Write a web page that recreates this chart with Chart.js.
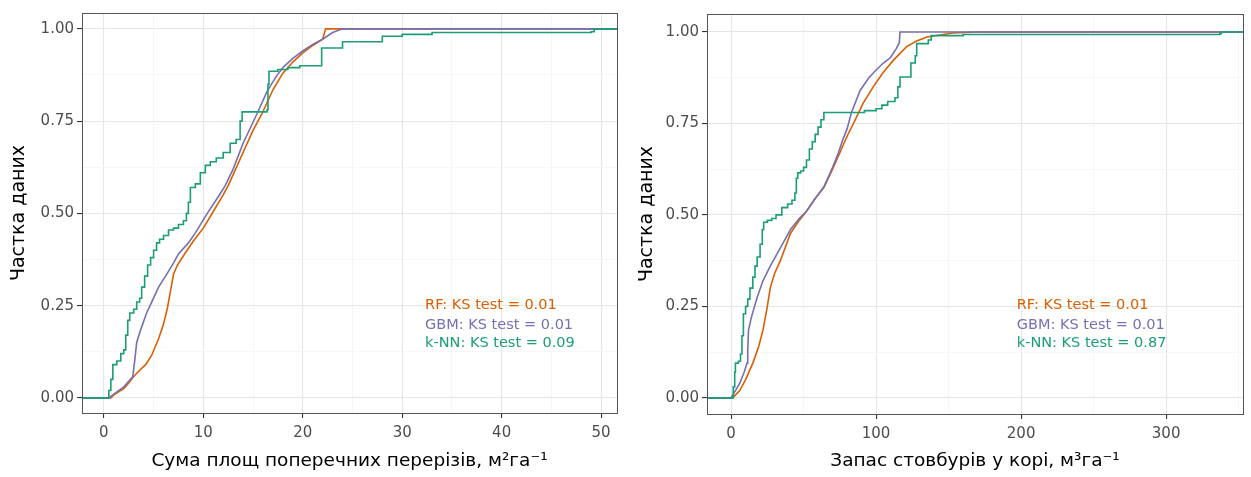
<!DOCTYPE html>
<html>
<head>
<meta charset="utf-8">
<script src="https://cdn.jsdelivr.net/npm/chart.js@4.4.1/dist/chart.umd.min.js"></script>
<style>
  html, body { margin: 0; padding: 0; background: #ffffff; }
  #wrap { position: relative; width: 1251px; height: 477px; background: #fff; }
  #c1 { position: absolute; left: 0; top: 0; }
  #c2 { position: absolute; left: 625px; top: 0; }
</style>
</head>
<body>
<div id="wrap">
  <canvas id="c1" width="625" height="477"></canvas>
  <canvas id="c2" width="626" height="477"></canvas>
</div>
<script>
// ---------------- DATA ----------------
const seriesNames = ['RF', 'GBM', 'k-NN'];
const ksLeft = ['0.01', '0.01', '0.09'];
const ksRight = ['0.01', '0.01', '0.87'];

const xTitleLeft = 'Сума площ поперечних перерізів, м²га⁻¹';
const xTitleRight = 'Запас стовбурів у корі, м³га⁻¹';
const yTitle = 'Частка даних';

const xTicksLeft = [0, 10, 20, 30, 40, 50];
const xTicksRight = [0, 100, 200, 300];
const yTicks = [0, 0.25, 0.5, 0.75, 1];

// Left panel: basal area ECDFs (x, cumulative share)
const rfLeft = [[-2.2,0],[0.7,0],[1.0,0.008],[2.0,0.025],[2.5,0.04],[3.0,0.058],[3.6,0.075],[4.2,0.09],[4.8,0.115],[5.5,0.16],[6.0,0.2],[6.4,0.245],[6.7,0.29],[7.0,0.335],[7.4,0.36],[8.0,0.385],[9.0,0.425],[10.0,0.46],[11.0,0.505],[12.0,0.55],[12.5,0.575],[13.0,0.605],[14.0,0.665],[15.0,0.725],[15.9,0.77],[17.0,0.835],[18.0,0.88],[19.0,0.91],[20.0,0.935],[21.0,0.955],[22.0,0.972],[22.3,1.0],[51.6,1.0]];
const gbmLeft = [[-2.2,0],[0.5,0],[1.0,0.01],[2.0,0.03],[2.9,0.057],[3.1,0.1],[3.3,0.15],[3.7,0.185],[4.3,0.23],[4.9,0.265],[5.5,0.3],[6.2,0.33],[7.0,0.365],[7.5,0.39],[8.5,0.42],[9.2,0.447],[10.4,0.5],[11.5,0.545],[12.2,0.575],[13.0,0.62],[14.0,0.69],[15.4,0.77],[16.4,0.83],[17.3,0.87],[18.0,0.895],[19.0,0.92],[20.0,0.94],[21.0,0.958],[22.0,0.972],[23.0,0.99],[24.0,1.0],[51.6,1.0]];
const knnLeft = [[-2.2,0],[0.3,0],[0.5,0.02],[0.7,0.05],[0.9,0.09],[1.3,0.1],[1.7,0.12],[2.0,0.13],[2.2,0.17],[2.4,0.21],[2.6,0.23],[3.0,0.24],[3.3,0.26],[3.6,0.27],[3.8,0.3],[4.1,0.33],[4.4,0.36],[4.7,0.38],[5.0,0.4],[5.3,0.42],[5.6,0.43],[6.0,0.44],[6.5,0.455],[7.0,0.46],[7.5,0.47],[8.0,0.48],[8.3,0.5],[8.5,0.53],[8.7,0.57],[9.2,0.58],[9.7,0.61],[10.2,0.63],[10.7,0.64],[11.3,0.65],[12.0,0.665],[12.7,0.69],[13.3,0.7],[13.7,0.75],[13.9,0.775],[16.4,0.78],[16.5,0.85],[16.6,0.885],[17.5,0.89],[18.5,0.895],[19.7,0.9],[21.9,0.948],[24.0,0.965],[28.0,0.98],[30.0,0.985],[33.0,0.99],[49.0,0.992],[49.3,1.0],[51.6,1.0]];

// Right panel: stem volume ECDFs
const rfRight = [[-16.6,0],[1,0],[6,0.02],[10,0.05],[15,0.095],[19,0.14],[22,0.185],[25,0.25],[27,0.3],[30,0.34],[34,0.375],[41,0.45],[47,0.485],[52,0.51],[58,0.545],[64,0.575],[70,0.625],[75,0.67],[80,0.715],[85,0.755],[91,0.805],[98,0.85],[105,0.89],[112,0.923],[121,0.96],[128,0.975],[135,0.986],[153,0.997],[170,1.0],[353,1.0]];
const gbmRight = [[-16.6,0],[0,0],[3,0.02],[6,0.04],[9,0.07],[11,0.095],[11.5,0.13],[12,0.185],[14,0.22],[18,0.275],[22,0.32],[27,0.36],[34,0.41],[41,0.46],[47,0.49],[52,0.51],[58,0.545],[64,0.577],[70,0.63],[74,0.67],[77,0.705],[80,0.735],[83,0.78],[89,0.84],[95,0.875],[100,0.896],[105,0.915],[110,0.93],[114,0.955],[116,0.97],[116.5,1.0],[353,1.0]];
const knnRight = [[-16.6,0],[0,0],[1.5,0.03],[2.5,0.07],[3.0,0.095],[5,0.1],[6.5,0.12],[7.5,0.17],[8.5,0.23],[10,0.25],[11.5,0.27],[13,0.3],[15,0.33],[16.5,0.36],[18,0.385],[20,0.42],[21.5,0.46],[22.5,0.48],[25,0.485],[28,0.49],[31,0.5],[35,0.52],[39,0.53],[42,0.54],[44,0.56],[45,0.6],[46,0.615],[48,0.62],[50,0.63],[52,0.65],[54,0.68],[56,0.7],[58,0.72],[60,0.74],[62,0.76],[64,0.78],[92,0.785],[100,0.79],[104,0.8],[108,0.81],[113,0.82],[115,0.85],[116.5,0.877],[123,0.877],[124,0.915],[127,0.935],[128,0.968],[136,0.978],[138,0.99],[160,0.993],[337,0.995],[338,1.0],[353,1.0]];

// ---------------- STYLE ----------------
const COLORS = ['#D95F02', '#7570B3', '#1B9E77'];
const FONT = "'DejaVu Sans', 'Liberation Sans', sans-serif";

const toXY = arr => arr.map(p => ({x: p[0], y: p[1]}));

const panelPlugin = {
  id: 'panel',
  afterDatasetsDraw(chart, args, opts) {
    const {ctx, chartArea: a, scales} = chart;
    ctx.save();
    ctx.strokeStyle = '#555555';
    ctx.lineWidth = 1;
    ctx.strokeRect(Math.round(a.left) + 0.5, Math.round(a.top) + 0.5, Math.round(a.right - a.left), Math.round(a.bottom - a.top));
    ctx.font = '14.5px ' + FONT;
    ctx.textAlign = 'left';
    ctx.textBaseline = 'middle';
    opts.labels.forEach((t, i) => {
      ctx.fillStyle = COLORS[i];
      ctx.fillText(t, scales.x.getPixelForValue(opts.x), scales.y.getPixelForValue(opts.ys[i]));
    });
    ctx.restore();
  }
};

function makeChart(id, cfg) {
  const datasets = cfg.series.map((s, i) => ({
    label: seriesNames[i],
    data: toXY(s),
    borderColor: COLORS[i],
    borderWidth: 1.6,
    pointRadius: 0,
    fill: false,
    tension: 0,
    stepped: i === 2 ? 'before' : false,
    order: 3 - i
  }));
  const xMinor = cfg.xMinor;
  const yAll = [0, 0.125, 0.25, 0.375, 0.5, 0.625, 0.75, 0.875, 1];
  return new Chart(document.getElementById(id), {
    type: 'line',
    data: { datasets },
    options: {
      responsive: false,
      animation: false,
      devicePixelRatio: 1,
      layout: { padding: { top: cfg.padTop, right: cfg.padRight, left: 0, bottom: 0 } },
      plugins: {
        legend: { display: false },
        tooltip: { enabled: false },
        panel: { labels: seriesNames.map((n, i) => n + ': KS test = ' + cfg.ks[i]), x: cfg.annX, ys: [0.252, 0.198, 0.149] }
      },
      scales: {
        x: {
          type: 'linear',
          min: cfg.xMin, max: cfg.xMax,
          afterBuildTicks: s => { s.ticks = xMinor.map(v => ({value: v})); },
          afterFit: s => { s.height = cfg.xHeight; },
          border: { display: false },
          grid: {
            color: c => (cfg.xTicks.includes(c.tick.value) ? '#E6E6E6' : '#F3F3F3'),
            lineWidth: c => (cfg.xTicks.includes(c.tick.value) ? 1.1 : 0.7),
            tickColor: c => (cfg.xTicks.includes(c.tick.value) ? '#333333' : 'rgba(0,0,0,0)'),
            tickLength: 5,
            drawTicks: true
          },
          ticks: {
            autoSkip: false, maxRotation: 0, padding: 6,
            color: '#4D4D4D',
            font: { family: FONT, size: 15 },
            callback: v => (cfg.xTicks.includes(v) ? String(v) : '')
          },
          title: { display: true, text: cfg.xTitle, color: '#000', font: { family: FONT, size: 18.5 }, padding: { top: 0, bottom: 5 } }
        },
        y: {
          type: 'linear',
          min: cfg.yMin, max: cfg.yMax,
          afterBuildTicks: s => { s.ticks = yAll.map(v => ({value: v})); },
          afterFit: s => { s.width = 82; },
          border: { display: false },
          grid: {
            color: c => (yTicks.includes(c.tick.value) ? '#E6E6E6' : '#F3F3F3'),
            lineWidth: c => (yTicks.includes(c.tick.value) ? 1.1 : 0.7),
            tickColor: c => (yTicks.includes(c.tick.value) ? '#333333' : 'rgba(0,0,0,0)'),
            tickLength: 5,
            drawTicks: true
          },
          ticks: {
            autoSkip: false, padding: 3,
            color: '#4D4D4D',
            font: { family: FONT, size: 15 },
            callback: v => (yTicks.includes(v) ? v.toFixed(2) : '')
          },
          title: { display: true, text: yTitle, color: '#000', font: { family: FONT, size: 19 }, padding: { top: cfg.yTitlePad, bottom: 0 } }
        }
      }
    },
    plugins: [panelPlugin]
  });
}

makeChart('c1', {
  series: [rfLeft, gbmLeft, knnLeft],
  ks: ksLeft,
  xMin: -2.2, xMax: 51.6, yMin: -0.041, yMax: 1.043,
  xTicks: xTicksLeft, xMinor: [0, 5, 10, 15, 20, 25, 30, 35, 40, 45, 50],
  xTitle: xTitleLeft,
  padTop: 13, padRight: 8, xHeight: 64, yTitlePad: 8,
  annX: 32.3
});

makeChart('c2', {
  series: [rfRight, gbmRight, knnRight],
  ks: ksRight,
  xMin: -16.6, xMax: 353, yMin: -0.044, yMax: 1.049,
  xTicks: xTicksRight, xMinor: [0, 50, 100, 150, 200, 250, 300, 350],
  xTitle: xTitleRight,
  padTop: 14, padRight: 8, xHeight: 63, yTitlePad: 11,
  annX: 197
});
</script>
</body>
</html>
